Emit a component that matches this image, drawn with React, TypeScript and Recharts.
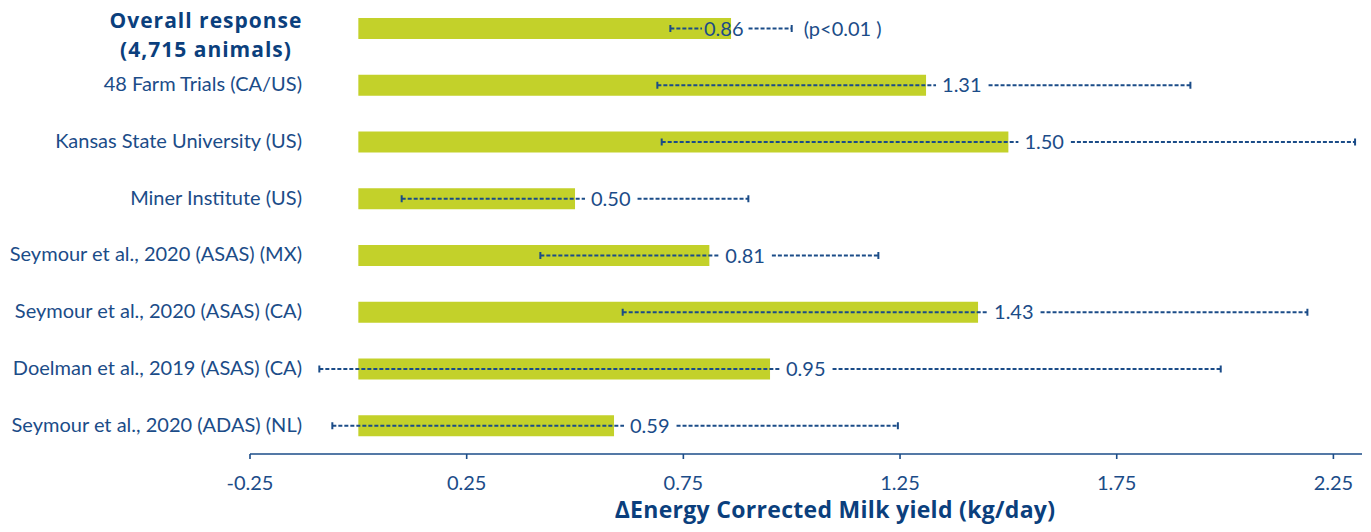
import React from 'react';
import { BarChart, Bar, XAxis, YAxis } from 'recharts';

// studies, top to bottom
const studies = [
  'Overall response|(4,715 animals)',
  '48 Farm Trials (CA/US)',
  'Kansas State University (US)',
  'Miner Institute (US)',
  'Seymour et al., 2020 (ASAS) (MX)',
  'Seymour et al., 2020 (ASAS) (CA)',
  'Doelman et al., 2019 (ASAS) (CA)',
  'Seymour et al., 2020 (ADAS) (NL)',
];
// mean response, kg/day
const effects = [0.86, 1.31, 1.5, 0.5, 0.81, 1.43, 0.95, 0.59];
// confidence interval ends
const lowerCI = [0.72, 0.69, 0.7, 0.1, 0.42, 0.61, -0.09, -0.06];
const upperCI = [1.0, 1.92, 2.3, 0.9, 1.2, 2.19, 1.99, 1.245];
const overallNote = '(p<0.01 )';
const xTicks = [-0.25, 0.25, 0.75, 1.25, 1.75, 2.25];
const xTitle = '\u0394Energy Corrected Milk yield (kg/day)';

const data = studies.map((study, i) => ({
  study,
  effect: effects[i],
  lower: lowerCI[i],
  upper: upperCI[i],
}));

const BAR = '#C3D12A';
const BLUE = '#1B4C88';
const NAVY = '#0B3F7D';
const FONT = 'Lato, "Open Sans", sans-serif';
const BOLD_FONT = '"Open Sans", Lato, sans-serif';
const LABEL_SIZE = 20;

let ctx: CanvasRenderingContext2D | null = null;
const textWidth = (s: string, size: number) => {
  if (!ctx) ctx = document.createElement('canvas').getContext('2d');
  if (!ctx) return s.length * size * 0.5;
  ctx.font = `${size}px Lato, "Open Sans", sans-serif`;
  return ctx.measureText(s).width;
};

// bar + dashed confidence interval + value label
const BarWithCI = (props: any) => {
  const { x, y, width, height, payload, index } = props;
  const perUnit = width / payload.effect;
  const at = (v: number) => x + v * perUnit;
  const cy = y + height / 2;
  const end = x + width;
  const lo = at(payload.lower);
  const hi = at(payload.upper);
  const label = payload.effect.toFixed(2);
  const w = textWidth(label, LABEL_SIZE);
  const overall = index === 0;
  const tx = overall ? end - 27 : end + 16;
  const seg1 = tx - (overall ? 2 : 6);
  const seg2 = tx + w + (overall ? 5 : 7);
  const dash = { stroke: BLUE, strokeWidth: 1.8, strokeDasharray: '4 2' };
  return (
    <g>
      <rect x={x} y={y} width={width} height={height} fill={BAR} />
      <line x1={lo} x2={seg1} y1={cy} y2={cy} {...dash} />
      <line x1={seg2} x2={hi} y1={cy} y2={cy} {...dash} />
      <line x1={lo} x2={lo} y1={cy - 3.5} y2={cy + 3.5} stroke={BLUE} strokeWidth={2} />
      <line x1={hi} x2={hi} y1={cy - 3.5} y2={cy + 3.5} stroke={BLUE} strokeWidth={2} />
      <text x={tx} y={cy + 7} fill={BLUE} fontSize={LABEL_SIZE} fontFamily={FONT}>
        {label}
      </text>
      {overall && (
        <text x={hi + 12} y={cy + 7} fill={BLUE} fontSize={LABEL_SIZE} fontFamily={FONT}>
          {overallNote}
        </text>
      )}
    </g>
  );
};

const StudyTick = (props: any) => {
  const { x, y, payload } = props;
  const lines = String(payload.value).split('|');
  if (lines.length > 1) {
    return (
      <g>
        {lines.map((l, i) => (
          <text
            key={l}
            x={x - 44}
            y={y + i * 29}
            textAnchor="middle"
            fill={NAVY}
            fontSize={21}
            fontWeight={700}
            letterSpacing={1}
            fontFamily={BOLD_FONT}
          >
            {l}
          </text>
        ))}
      </g>
    );
  }
  return (
    <text x={x + 52} y={y + 6} textAnchor="end" fill={BLUE} fontSize={LABEL_SIZE} fontFamily={FONT}>
      {lines[0]}
    </text>
  );
};

const ValueTick = (props: any) => {
  const { x, y, payload } = props;
  return (
    <text x={x} y={y + 31} textAnchor="middle" fill={BLUE} fontSize={LABEL_SIZE} fontFamily={FONT}>
      {payload.value.toFixed(2)}
    </text>
  );
};

const AxisTitle = (props: any) => {
  const vb = props.viewBox || {};
  return (
    <text
      x={vb.x + vb.width / 2 + 29}
      y={vb.y + 64}
      textAnchor="middle"
      fill={NAVY}
      fontSize={23}
      fontWeight={700}
      letterSpacing={0.3}
      fontFamily={BOLD_FONT}
    >
      {xTitle}
    </text>
  );
};

export default function App() {
  return (
    <div style={{ position: 'absolute', left: 0, top: 0, background: '#fff' }}>
      <BarChart
        width={1371}
        height={532}
        data={data}
        layout="vertical"
        margin={{ top: 0, right: 9, left: 0, bottom: 0 }}
      >
        <XAxis
          type="number"
          domain={[-0.25, 2.316]}
          ticks={xTicks}
          allowDataOverflow
          height={78}
          stroke={BLUE}
          strokeWidth={1.6}
          tickSize={5}
          tickMargin={0}
          tick={<ValueTick />}
          label={<AxisTitle />}
        />
        <YAxis
          type="category"
          dataKey="study"
          width={250}
          axisLine={false}
          tickLine={false}
          tickSize={0}
          tickMargin={0}
          interval={0}
          tick={<StudyTick />}
        />
        <Bar dataKey="effect" barSize={21} shape={<BarWithCI />} isAnimationActive={false} />
      </BarChart>
    </div>
  );
}
